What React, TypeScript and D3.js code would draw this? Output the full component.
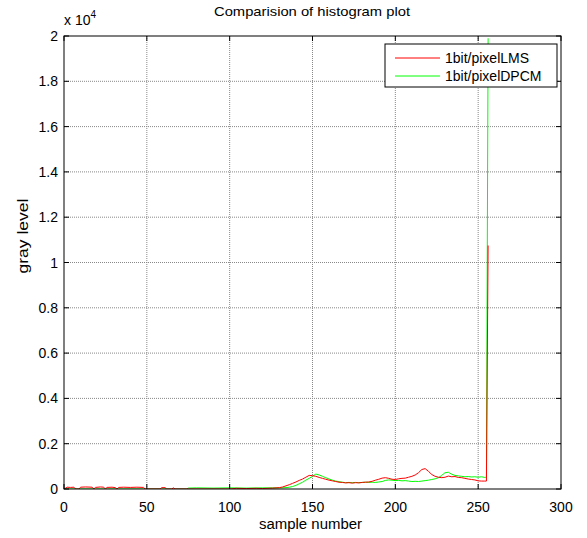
import * as d3 from "d3";

const W = 587;
const H = 538;
const margin = { top: 36, right: 26, bottom: 49, left: 64 };

const xTicks = [0, 50, 100, 150, 200, 250, 300];
const yTicks = [0, 2000, 4000, 6000, 8000, 10000, 12000, 14000, 16000, 18000, 20000];
const yTickLabels = ["0", "0.2", "0.4", "0.6", "0.8", "1", "1.2", "1.4", "1.6", "1.8", "2"];

// 1bit/pixelLMS (red)
const lmsX = [0, 2, 4, 6, 7, 9, 10, 13, 17, 18, 19, 22, 24, 25, 26, 29, 31, 32, 33, 36, 40, 44, 48, 49, 58, 59, 61, 62, 65, 66, 67, 100, 104, 110, 116, 120, 126, 130, 132, 134, 136, 138, 140, 142, 144, 146, 148, 150, 152, 154, 156, 158, 160, 162, 164, 166, 168, 170, 172, 174, 176, 178, 180, 182, 184, 186, 188, 190, 192, 194, 196, 198, 200, 202, 204, 206, 208, 210, 212, 214, 216, 218, 220, 222, 224, 226, 228, 230, 232, 234, 236, 238, 240, 242, 244, 246, 248, 250, 252, 254, 255, 256];
const lmsY = [0, 80, 70, 80, 0, 0, 80, 90, 80, 0, 70, 90, 80, 0, 70, 80, 60, 0, 70, 80, 70, 80, 70, 0, 0, 60, 60, 0, 0, 50, 0, 0, 30, 20, 30, 20, 40, 60, 90, 140, 190, 250, 310, 380, 440, 520, 600, 590, 560, 510, 470, 430, 390, 360, 330, 300, 290, 270, 280, 260, 280, 270, 290, 300, 310, 340, 390, 430, 480, 500, 470, 430, 420, 450, 470, 480, 520, 560, 620, 720, 860, 900, 780, 640, 560, 520, 500, 520, 570, 540, 550, 510, 500, 470, 440, 420, 400, 360, 350, 350, 350, 10750];

// 1bit/pixelDPCM (green)
const dpcmX = [0, 74, 75, 80, 90, 100, 110, 120, 126, 130, 134, 136, 138, 140, 142, 144, 146, 148, 150, 152, 154, 156, 158, 160, 162, 164, 166, 168, 170, 172, 174, 176, 178, 180, 182, 184, 186, 188, 190, 192, 194, 196, 198, 200, 202, 204, 206, 208, 210, 212, 214, 216, 218, 220, 222, 224, 226, 228, 230, 232, 234, 236, 238, 240, 242, 244, 246, 248, 250, 252, 254, 255, 256];
const dpcmY = [0, 0, 40, 50, 40, 50, 40, 50, 50, 50, 60, 80, 110, 160, 230, 300, 390, 470, 560, 660, 620, 560, 500, 440, 390, 350, 320, 300, 280, 290, 280, 290, 280, 290, 300, 290, 300, 290, 310, 330, 380, 400, 390, 370, 380, 360, 370, 350, 330, 340, 330, 350, 370, 390, 420, 450, 500, 600, 720, 740, 650, 600, 580, 560, 540, 550, 530, 540, 520, 540, 510, 530, 19900];

const legendItems = [
  { label: "1bit/pixelLMS", color: "#ff0000" },
  { label: "1bit/pixelDPCM", color: "#00ff00" },
];

export default function App() {
  const iw = W - margin.left - margin.right;
  const ih = H - margin.top - margin.bottom;
  const x = d3.scaleLinear().domain([0, 300]).range([0, iw]);
  const y = d3.scaleLinear().domain([0, 20000]).range([ih, 0]);

  const mk = (xs: number[], ys: number[]) =>
    d3
      .line<number>()
      .x((_, i) => x(xs[i]))
      .y((d) => y(d))(ys) as string;

  const font = "Liberation Sans, Arial, sans-serif";
  const fs = 14;

  return (
    <svg
      width={W}
      height={H}
      style={{ position: "absolute", left: 0, top: 0, background: "#fff" }}
      fontFamily={font}
    >
      <rect width={W} height={H} fill="#fff" />
      <text
        x={214}
        y={16}
        fontSize={13}
        textLength={196}
        lengthAdjust="spacingAndGlyphs"
      >
        Comparision of histogram plot
      </text>
      <text x={64} y={25} fontSize={fs}>
        x 10
        <tspan dy={-7} fontSize={10}>
          4
        </tspan>
      </text>
      <g transform={`translate(${margin.left},${margin.top})`}>
        <defs>
          <clipPath id="plotclip">
            <rect width={iw} height={ih} />
          </clipPath>
        </defs>
        {/* grid */}
        {xTicks.slice(1, -1).map((t) => (
          <line
            key={"gx" + t}
            x1={x(t)}
            x2={x(t)}
            y1={0}
            y2={ih}
            stroke="#888"
            strokeWidth={1}
            strokeDasharray="1,1"
          />
        ))}
        {yTicks.slice(1, -1).map((t) => (
          <line
            key={"gy" + t}
            x1={0}
            x2={iw}
            y1={y(t)}
            y2={y(t)}
            stroke="#888"
            strokeWidth={1}
            strokeDasharray="1,1"
          />
        ))}
        {/* series */}
        <g clipPath="url(#plotclip)" fill="none" strokeWidth={1}>
          <path d={mk(dpcmX, dpcmY)} stroke="#00ff00" />
          <path d={mk(lmsX, lmsY)} stroke="#ff0000" />
        </g>
        {/* box */}
        <rect width={iw} height={ih} fill="none" stroke="#000" strokeWidth={1} />
        {/* ticks */}
        {xTicks.map((t) => (
          <g key={"tx" + t}>
            <line x1={x(t)} x2={x(t)} y1={ih} y2={ih - 5} stroke="#000" />
            <line x1={x(t)} x2={x(t)} y1={0} y2={5} stroke="#000" />
            <text x={x(t)} y={ih + 23} textAnchor="middle" fontSize={fs}>
              {t}
            </text>
          </g>
        ))}
        {yTicks.map((t, i) => (
          <g key={"ty" + t}>
            <line x1={0} x2={5} y1={y(t)} y2={y(t)} stroke="#000" />
            <line x1={iw} x2={iw - 5} y1={y(t)} y2={y(t)} stroke="#000" />
            <text x={-6} y={y(t) + 5} textAnchor="end" fontSize={fs}>
              {yTickLabels[i]}
            </text>
          </g>
        ))}
        <text
          x={195}
          y={ih + 40}
          fontSize={fs}
          textLength={103}
          lengthAdjust="spacingAndGlyphs"
        >
          sample number
        </text>
        <text
          transform={`translate(${-36},${ih / 2 + 11}) rotate(-90)`}
          fontSize={fs}
          textLength={75}
          lengthAdjust="spacingAndGlyphs"
        >
          gray level
        </text>
        {/* legend */}
        <g transform={`translate(${385 - margin.left},${44 - margin.top})`}>
          <rect width={172} height={43} fill="#fff" stroke="#000" />
          {legendItems.map((it, i) => (
            <g key={it.label} transform={`translate(0,${14 + i * 18})`}>
              <line x1={10} x2={55} y1={0} y2={0} stroke={it.color} />
              <text x={60} y={5} fontSize={fs}>
                {it.label}
              </text>
            </g>
          ))}
        </g>
      </g>
    </svg>
  );
}
